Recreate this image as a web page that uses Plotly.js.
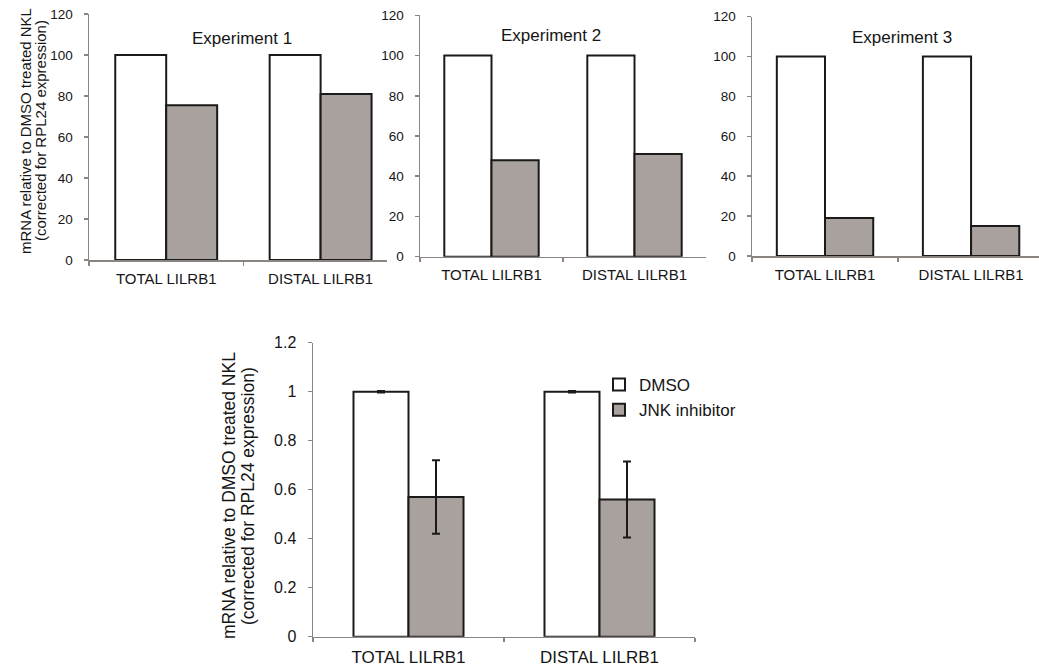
<!DOCTYPE html>
<html>
<head>
<meta charset="utf-8">
<script src="https://cdn.plot.ly/plotly-3.0.1.min.js"></script>
<style>html,body{margin:0;padding:0;background:#fff;}#chart{width:1039px;height:671px;}</style>
</head>
<body>
<div id="chart"></div>
<script>
// ---- data ----
const categories = ['TOTAL LILRB1', 'DISTAL LILRB1'];
const seriesNames = ['DMSO', 'JNK inhibitor'];
const expTitles = ['Experiment 1', 'Experiment 2', 'Experiment 3'];
const exp1DMSO = [100, 100];
const exp1JNK = [75.5, 81];
const exp2DMSO = [100, 100];
const exp2JNK = [48, 51];
const exp3DMSO = [100, 100];
const exp3JNK = [19, 15];
const meanDMSO = [1, 1];
const meanJNK = [0.57, 0.56];
const errDMSO = [0.003, 0.003];
const errJNK = [0.15, 0.155];
const yTitleLine1 = 'mRNA relative to DMSO treated NKL';
const yTitleLine2 = '(corrected for RPL24 expression)';

// ---- style ----
const W = 1039, H = 671;
const FONT = 'Liberation Sans, Arial, sans-serif';
const TXT = '#151515';
const AXC = '#8c8480';
const FILL_D = '#ffffff';
const FILL_J = '#a9a19d';
const EDGE = '#1a1a1a';
const px = v => v / W;
const py = v => 1 - v / H;

function barTrace(x, y, name, fill, ax, ay, w, side, show, err) {
  const t = {
    type: 'bar', x: x, y: y, name: name, xaxis: ax, yaxis: ay,
    width: w, offset: side < 0 ? -w : 0,
    marker: {color: fill, line: {color: EDGE, width: 2}},
    showlegend: show, legendgroup: name, hoverinfo: 'skip'
  };
  if (err) t.error_y = {type: 'data', array: err, visible: true, color: EDGE, thickness: 2, width: 4};
  return t;
}

const wTop = 0.33, wBot = 0.288;
const data = [
  barTrace(categories, exp1DMSO, seriesNames[0], FILL_D, 'x', 'y', wTop, -1, false),
  barTrace(categories, exp1JNK, seriesNames[1], FILL_J, 'x', 'y', wTop, 1, false),
  barTrace(categories, exp2DMSO, seriesNames[0], FILL_D, 'x2', 'y2', wTop, -1, false),
  barTrace(categories, exp2JNK, seriesNames[1], FILL_J, 'x2', 'y2', wTop, 1, false),
  barTrace(categories, exp3DMSO, seriesNames[0], FILL_D, 'x3', 'y3', wTop, -1, false),
  barTrace(categories, exp3JNK, seriesNames[1], FILL_J, 'x3', 'y3', wTop, 1, false),
  barTrace(categories, meanDMSO, seriesNames[0], FILL_D, 'x4', 'y4', wBot, -1, true, errDMSO),
  barTrace(categories, meanJNK, seriesNames[1], FILL_J, 'x4', 'y4', wBot, 1, true, errJNK)
];

function xAxis(dom, anchor, range, fs) {
  return {
    domain: dom, anchor: anchor, type: 'category', range: range,
    showline: true, linecolor: AXC, linewidth: 1.5,
    ticks: 'outside', tickson: 'boundaries', ticklen: 4, tickcolor: AXC, tickwidth: 1.5,
    showgrid: false, zeroline: false, fixedrange: true,
    tickfont: {family: FONT, size: fs, color: TXT}, ticklabelstandoff: 4
  };
}
function yAxis(dom, anchor, range, dtick, fs) {
  return {
    domain: dom, anchor: anchor, range: range, dtick: dtick, tick0: 0,
    showline: true, linecolor: AXC, linewidth: 1.5,
    ticks: 'outside', ticklen: 4, tickcolor: AXC, tickwidth: 1.5,
    showgrid: false, zeroline: false, fixedrange: true,
    tickfont: {family: FONT, size: fs, color: TXT}, ticklabelstandoff: 8
  };
}

function ann(text, x, y, size, angle) {
  return {text: text, xref: 'paper', yref: 'paper', x: x, y: y, xanchor: 'center', yanchor: 'middle',
    showarrow: false, textangle: angle || 0, font: {family: FONT, size: size, color: TXT}};
}

const layout = {
  width: W, height: H,
  margin: {l: 0, r: 0, t: 0, b: 0},
  paper_bgcolor: '#fff', plot_bgcolor: 'rgba(0,0,0,0)',
  barmode: 'group',
  showlegend: true,
  legend: {x: px(599), y: py(367), xanchor: 'left', yanchor: 'top',
    font: {family: FONT, size: 17, color: TXT}, bgcolor: 'rgba(0,0,0,0)', tracegroupgap: 0},
  xaxis: xAxis([px(89), px(387)], 'y', [-0.5, 1.5 - 0.07], 15),
  yaxis: yAxis([py(260), py(14)], 'x', [0, 120], 20, 13.5),
  xaxis2: xAxis([px(420), px(706)], 'y2', [-0.5, 1.5], 15),
  yaxis2: yAxis([py(256.7), py(15.3)], 'x2', [0, 120], 20, 13.5),
  xaxis3: xAxis([px(752), 1], 'y3', [-0.5, 1.465], 15),
  yaxis3: yAxis([py(256), py(16.7)], 'x3', [0, 120], 20, 13.5),
  xaxis4: xAxis([px(313), px(695)], 'y4', [-0.5, 1.5], 17),
  yaxis4: yAxis([py(636.7), py(342.7)], 'x4', [0, 1.2], 0.2, 16),
  annotations: [
    ann(expTitles[0], px(242), py(38), 17),
    ann(expTitles[1], px(551), py(36), 17),
    ann(expTitles[2], px(902), py(37), 17),
    ann(yTitleLine1, px(25), py(131), 15, -90),
    ann(yTitleLine2, px(40), py(131), 15, -90),
    ann(yTitleLine1, px(229), py(496), 17.5, -90),
    ann(yTitleLine2, px(248), py(496), 17.5, -90)
  ]
};

Plotly.newPlot('chart', data, layout, {displayModeBar: false, staticPlot: true});
</script>
</body>
</html>
